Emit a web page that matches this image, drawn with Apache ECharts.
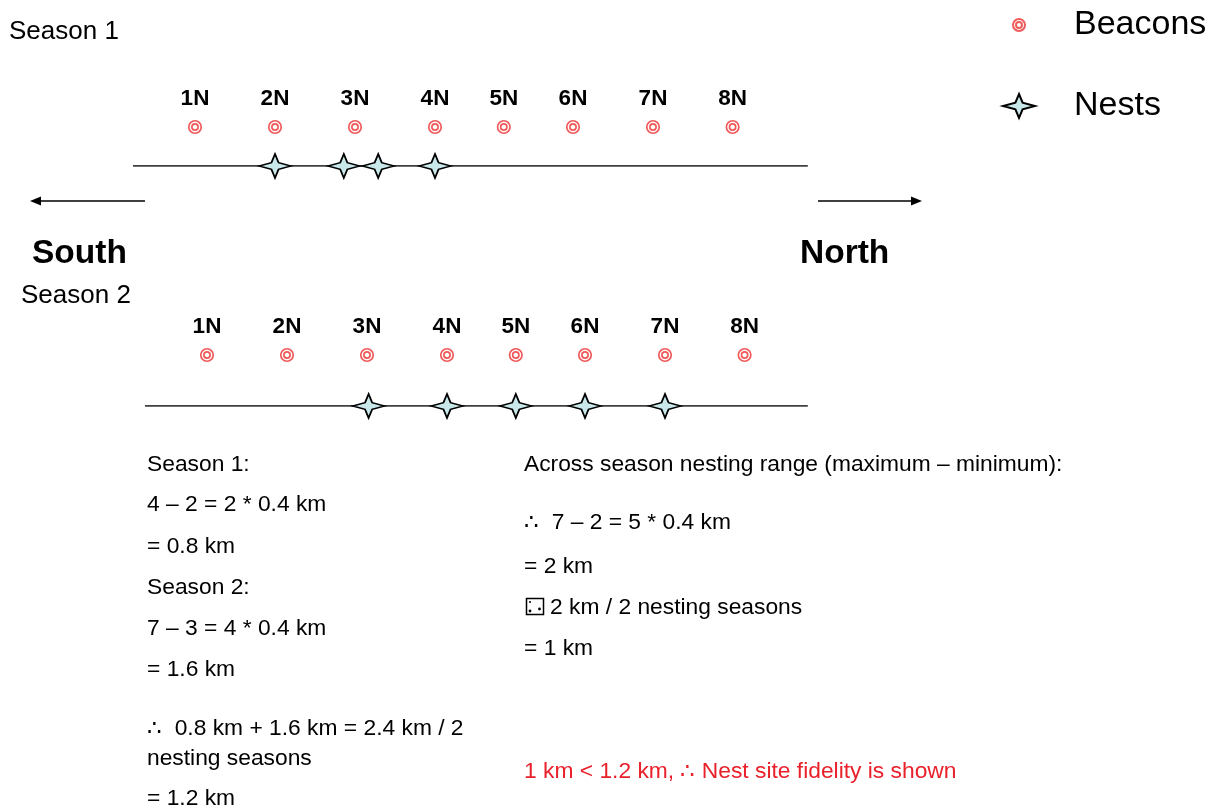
<!DOCTYPE html>
<html>
<head>
<meta charset="utf-8">
<script src="https://cdn.jsdelivr.net/npm/echarts@6/dist/echarts.min.js"></script>
<style>
html,body{margin:0;padding:0;background:#fff;}
#chart{width:1213px;height:810px;}
</style>
</head>
<body>
<div id="chart"></div>
<script>
// ---- data ----
const beaconNames = ['1N','2N','3N','4N','5N','6N','7N','8N'];
// beacon positions along the transect (units of beacon spacing, 1N = 0)
const beaconPos = [0, 1, 2, 3, 3.86, 4.725, 5.725, 6.72];
// nest positions (same units)
const season1Nests = [1.0, 1.86, 2.29, 3.0];
const season2Nests = [2.02, 3.0, 3.86, 4.725, 5.725];
// transect line extents (same units)
const season1Transect = [-0.775, 7.66];
const season2Transect = [-0.775, 7.51];

const leftNotes = [
  'Season 1:',
  '4 \u2013 2 = 2 * 0.4 km',
  '= 0.8 km',
  'Season 2:',
  '7 \u2013 3 = 4 * 0.4 km',
  '= 1.6 km',
  '\u2234  0.8 km + 1.6 km = 2.4 km / 2',
  'nesting seasons',
  '= 1.2 km'
];
const rightNotes = [
  'Across season nesting range (maximum \u2013 minimum):',
  '\u2234  7 \u2013 2 = 5 * 0.4 km',
  '= 2 km',
  '2 km / 2 nesting seasons',
  '= 1 km'
];
const conclusion = '1 km < 1.2 km, \u2234 Nest site fidelity is shown';

// ---- styling ----
const FONT = "'Liberation Sans', Arial, Helvetica, sans-serif";
const RED = '#f05a5a';
const beaconSymbol = 'path://M12,6A6,6 0 1,1 0,6A6,6 0 1,1 12,6Z M9,6A3,3 0 1,1 3,6A3,3 0 1,1 9,6Z';
const starSymbol = 'path://M16,0 L19.6,8.6 L32,12 L19.6,15.4 L16,24 L12.4,15.4 L0,12 L12.4,8.6 Z';

function beaconSeries(gi){
  return {
    name:'Beacons', type:'scatter', xAxisIndex:gi, yAxisIndex:gi,
    symbol: beaconSymbol, symbolSize:12.5, symbolKeepAspect:true,
    itemStyle:{color:'#ffffff', borderColor:RED, borderWidth:1.7, opacity:1},
    label:{show:true, position:'top', distance:10, formatter:'{b}',
      fontFamily:FONT, fontWeight:'bold', fontSize:22.5, color:'#000'},
    data: beaconNames.map((n,i)=>({name:n, value:[beaconPos[i],1]})),
    z:3, silent:true
  };
}
function nestSeries(gi, arr){
  return {
    name:'Nests', type:'scatter', xAxisIndex:gi, yAxisIndex:gi,
    symbol: starSymbol, symbolSize:[32,24],
    itemStyle:{color:'#c8e8e9', borderColor:'#000', borderWidth:1.6, opacity:1},
    data: arr.map(x=>[x,0]), z:4, silent:true
  };
}
function transectSeries(gi, ext){
  return {
    name:'transect'+gi, type:'line', xAxisIndex:gi, yAxisIndex:gi,
    symbol:'none', lineStyle:{color:'#000', width:1.5},
    data: ext.map(x=>[x,0]), z:2, silent:true
  };
}

function txt(text, x, y, size, opts){
  opts = opts || {};
  return {type:'text', left:x, top:y - size*0.44, silent:true,
    style:{text:text, fill:opts.color||'#000',
      font:(opts.bold?'bold ':'') + size + 'px ' + FONT}};
}

const graphics = [];
graphics.push(txt('Season 1', 9, 30, 26));
graphics.push(txt('South', 32, 252, 33.5, {bold:true}));
graphics.push(txt('North', 800, 252, 33.5, {bold:true}));
graphics.push(txt('Season 2', 21, 294, 26));
const leftY = [463, 503, 545, 586, 627, 668, 727, 757, 797];
leftNotes.forEach((t,i)=>graphics.push(txt(t, 147, leftY[i], 22.8)));
const rightY = [463, 521, 565, 606, 647];
const rightX = [524, 524, 524, 550, 524];
rightNotes.forEach((t,i)=>graphics.push(txt(t, rightX[i], rightY[i], 22.8)));
graphics.push(txt(conclusion, 524, 770, 22.8, {color:'#e8212b'}));
// missing-glyph box before "2 km / 2 nesting seasons"
graphics.push({type:'rect', silent:true, shape:{x:526.5, y:598.5, width:17, height:16},
  style:{fill:'none', stroke:'#000', lineWidth:1.5}});
graphics.push({type:'circle', silent:true, shape:{cx:530, cy:611, r:1.4}, style:{fill:'#000'}});
graphics.push({type:'circle', silent:true, shape:{cx:539.5, cy:609, r:1.4}, style:{fill:'#000'}});
graphics.push({type:'circle', silent:true, shape:{cx:530, cy:602, r:1}, style:{fill:'#000'}});
// direction arrows
graphics.push({type:'line', silent:true, shape:{x1:145, y1:201, x2:38, y2:201}, style:{stroke:'#000', lineWidth:1.6}});
graphics.push({type:'polygon', silent:true, shape:{points:[[30,201],[41,196.5],[41,205.5]]}, style:{fill:'#000'}});
graphics.push({type:'line', silent:true, shape:{x1:818, y1:201, x2:914, y2:201}, style:{stroke:'#000', lineWidth:1.6}});
graphics.push({type:'polygon', silent:true, shape:{points:[[922,201],[911,196.5],[911,205.5]]}, style:{fill:'#000'}});

const hiddenX = {type:'value', min:-1, max:8.5, show:false};
const hiddenY = {type:'value', min:0, max:1, show:false};

const option = {
  backgroundColor:'#ffffff',
  animation:false,
  grid:[
    {left:115, width:760, top:127, height:39},
    {left:127, width:760, top:355, height:51}
  ],
  xAxis:[Object.assign({gridIndex:0}, hiddenX), Object.assign({gridIndex:1}, hiddenX)],
  yAxis:[Object.assign({gridIndex:0}, hiddenY), Object.assign({gridIndex:1}, hiddenY)],
  legend:[
    {data:['Beacons'], left:1007, top:3, itemWidth:12, itemHeight:12, selectedMode:false,
      textStyle:{fontFamily:FONT, fontSize:34, color:'#000', padding:[0,0,0,44], lineHeight:30}},
    {data:['Nests'], left:997, top:84, itemWidth:34, itemHeight:24, selectedMode:false,
      textStyle:{fontFamily:FONT, fontSize:34, color:'#000', padding:[0,0,0,33], lineHeight:30}}
  ],
  graphic: graphics,
  series:[
    transectSeries(0, season1Transect),
    transectSeries(1, season2Transect),
    beaconSeries(0), beaconSeries(1),
    nestSeries(0, season1Nests), nestSeries(1, season2Nests)
  ]
};

const chart = echarts.init(document.getElementById('chart'), null, {renderer:'canvas'});
chart.setOption(option);
</script>
</body>
</html>
